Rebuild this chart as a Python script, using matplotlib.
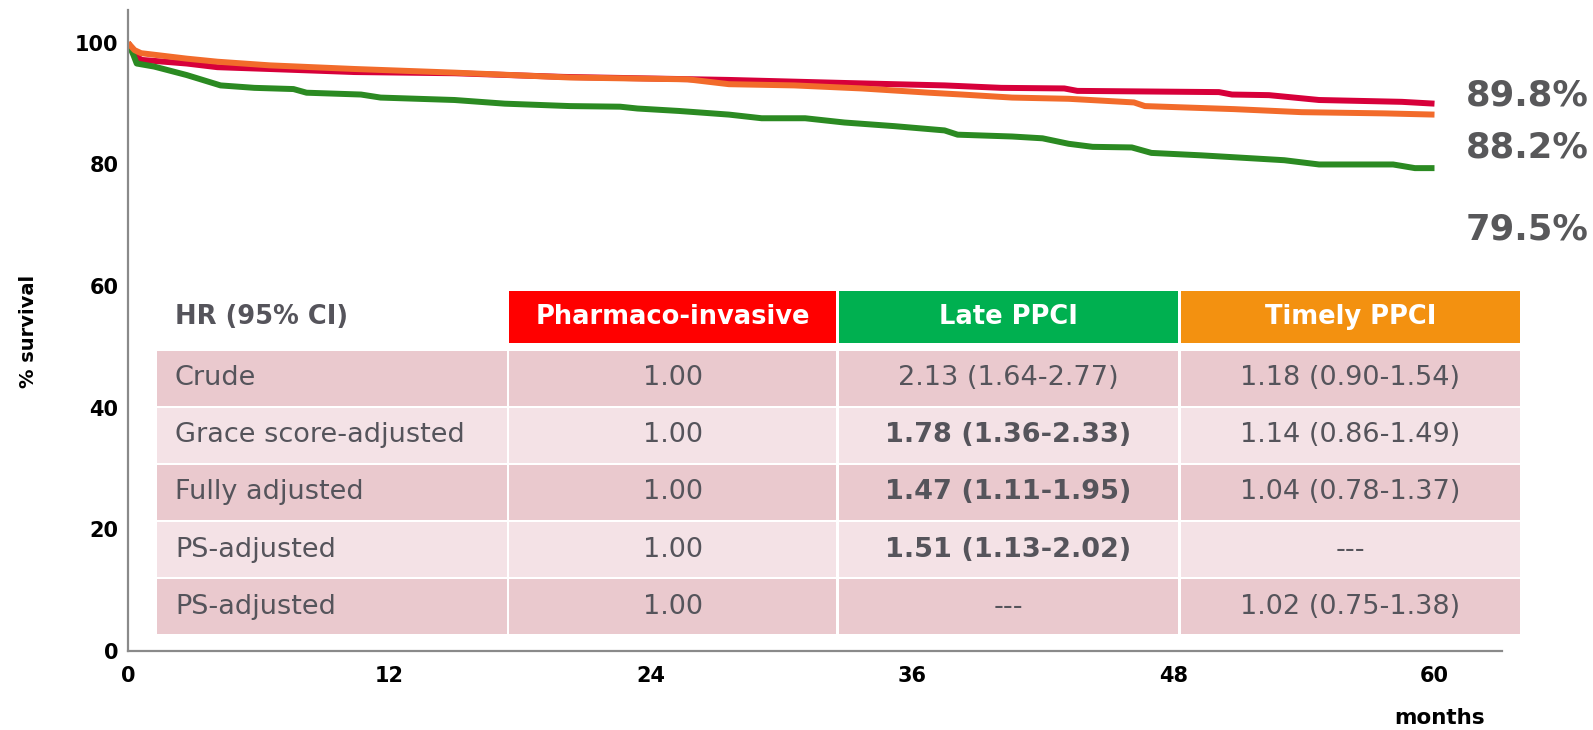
import matplotlib
matplotlib.use('Agg')
from matplotlib import pyplot as plt
from matplotlib.patches import Rectangle

# Kaplan-Meier curves (months, % survival)
red_months = [0, 0.3, 0.6, 2.7, 4.1, 6.5, 10.4, 15, 20, 27.6, 32.9, 35.2, 37.5, 40.1,
              43.0, 43.6, 50.1, 50.7, 52.4, 54.7, 58.5, 60]
red_surv = [100, 98.2, 97.2, 96.6, 96.0, 95.7, 95.2, 95.0, 94.4, 93.9, 93.4, 93.2, 93.0, 92.6,
            92.5, 92.1, 91.9, 91.5, 91.4, 90.6, 90.3, 90.0]

orange_months = [0, 0.3, 0.6, 2.7, 4.1, 6.5, 10.4, 15, 20.3, 25.7, 27.6, 30.6, 33.7, 36.8,
                 38.3, 40.6, 43.2, 46.2, 46.7, 50.8, 53.9, 57.7, 60]
orange_surv = [100, 98.8, 98.3, 97.4, 96.9, 96.3, 95.7, 95.1, 94.3, 94.0, 93.2, 93.0, 92.5, 91.8,
               91.5, 91.0, 90.8, 90.2, 89.6, 89.1, 88.6, 88.4, 88.2]

green_months = [0, 0.25, 0.4, 1.2, 2.7, 4.25, 5.8, 7.6, 8.2, 10.7, 11.6, 15, 17.3, 20.3, 22.6,
                23.4, 25.3, 27.6, 29.1, 31.1, 32.9, 35.2, 37.5, 38.1, 40.6, 42.0, 43.2, 44.3,
                46.1, 47.0, 49.3, 53.1, 54.7, 58.1, 59.1, 60]
green_surv = [100, 98.0, 96.6, 96.1, 94.7, 93.0, 92.6, 92.4, 91.8, 91.5, 91.0, 90.6, 90.0, 89.6,
              89.5, 89.2, 88.8, 88.2, 87.6, 87.6, 86.9, 86.3, 85.6, 84.9, 84.6, 84.3, 83.4, 82.9,
              82.8, 81.9, 81.5, 80.7, 80.0, 80.0, 79.4, 79.4]

end_labels = ['89.8%', '88.2%', '79.5%']

x_ticks = [0, 12, 24, 36, 48, 60]
y_ticks = [0, 20, 40, 60, 80, 100]

# hazard ratio table
table_header = ['HR (95% CI)', 'Pharmaco-invasive', 'Late PPCI', 'Timely PPCI']
row_names = ['Crude', 'Grace score-adjusted', 'Fully adjusted', 'PS-adjusted', 'PS-adjusted']
pharmaco_hr = ['1.00', '1.00', '1.00', '1.00', '1.00']
late_hr = ['2.13 (1.64-2.77)', '1.78 (1.36-2.33)', '1.47 (1.11-1.95)', '1.51 (1.13-2.02)', '---']
timely_hr = ['1.18 (0.90-1.54)', '1.14 (0.86-1.49)', '1.04 (0.78-1.37)', '---', '1.02 (0.75-1.38)']
late_bold = [False, True, True, True, False]

W, H = 1593, 730
RED = '#d7003a'
ORANGE = '#f26b2b'
GREEN = '#2b8a22'
TXT = '#55545b'


def fx(x):
    return x / W


def fy(y):
    return 1 - y / H


fig = plt.figure(figsize=(W / 100, H / 100), dpi=100)
ax = fig.add_axes([fx(128), fy(651), (1502 - 128) / W, (651 - 10) / H])

ax.plot(red_months, red_surv, color=RED, lw=4.3, solid_capstyle='butt')
ax.plot(green_months, green_surv, color=GREEN, lw=4.3, solid_capstyle='butt')
ax.plot(orange_months, orange_surv, color=ORANGE, lw=4.3, solid_capstyle='butt')

ax.set_xlim(0, 63.1)
ax.set_ylim(0, 105.4)
ax.set_xticks(x_ticks)
ax.set_yticks(y_ticks)
for side in ['top', 'right']:
    ax.spines[side].set_visible(False)
for side in ['left', 'bottom']:
    ax.spines[side].set_color('#8a8a8a')
    ax.spines[side].set_linewidth(1.6)
ax.tick_params(length=0, labelsize=15)
ax.tick_params(axis='y', pad=7)
ax.tick_params(axis='x', pad=11)
for lab in ax.get_xticklabels() + ax.get_yticklabels():
    lab.set_fontweight('bold')

fig.text(fx(29), fy(331), '% survival', rotation=90, fontsize=14, fontweight='bold',
         ha='center', va='center')
fig.text(fx(1440), fy(718), 'months', fontsize=15.5, fontweight='bold', ha='center', va='center')

# end-of-follow-up survival labels
for lab, yy in zip(end_labels, [95, 147, 230]):
    fig.text(fx(1527), fy(yy), lab, fontsize=25.5, fontweight='bold', color='#58585a',
             ha='center', va='center')

# table
col_edges = [(157, 507), (509, 836), (839, 1178), (1181, 1520)]
head_colors = [None, '#ff0000', '#00b050', '#f39110']
row_colors = ['#eac9ce', '#f4e2e6']


def cell(x0, x1, y0, y1, color):
    fig.add_artist(Rectangle((fx(x0), fy(y1)), (x1 - x0) / W, (y1 - y0) / H,
                             transform=fig.transFigure, facecolor=color, edgecolor='none'))


# header
for i, name in enumerate(table_header):
    x0, x1 = col_edges[i]
    if head_colors[i] is None:
        fig.text(fx(175), fy(317), name, fontsize=18.5, fontweight='bold', color=TXT,
                 ha='left', va='center')
    else:
        cell(x0, x1, 291, 343, head_colors[i])
        fig.text(fx((x0 + x1) / 2), fy(317), name, fontsize=18.5, fontweight='bold',
                 color='white', ha='center', va='center')

# body rows
for r in range(len(row_names)):
    top = 351 + r * 57.1
    bot = top + 54.5
    mid = (top + bot) / 2
    color = row_colors[r % 2]
    for c in range(4):
        cell(col_edges[c][0], col_edges[c][1], top, bot, color)
    fig.text(fx(175), fy(mid), row_names[r], fontsize=19.5, color=TXT, ha='left', va='center')
    values = [pharmaco_hr[r], late_hr[r], timely_hr[r]]
    for c, val in enumerate(values, start=1):
        x0, x1 = col_edges[c]
        weight = 'bold' if (c == 2 and late_bold[r]) else 'normal'
        fig.text(fx((x0 + x1) / 2), fy(mid), val, fontsize=19.5, fontweight=weight,
                 color=TXT, ha='center', va='center')

fig.savefig('out.png', dpi=100)
